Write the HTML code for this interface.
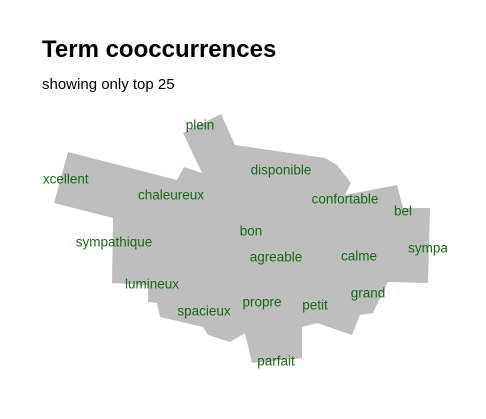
<!DOCTYPE html>
<html><head><meta charset="utf-8"><style>
body{margin:0;background:#fff;width:486px;height:414px;overflow:hidden;font-family:"Liberation Sans",sans-serif}
</style></head><body>
<svg width="486" height="414">
<text x="42" y="57" font-size="24" font-weight="bold" fill="#000">Term cooccurrences</text>
<text x="42" y="89" font-size="15" fill="#000">showing only top 25</text>
<defs><clipPath id="pc"><rect x="43" y="100" width="404" height="300"/></clipPath></defs>
<g clip-path="url(#pc)">
<polygon fill="#bebebe" points="183,133 221,114 235,145 325,158 337,165 351,183 345,195 397,185 403,208 430,208 428,283 388,282 373,313 360,315 352,335 317,323 302,327 302,358 252,363 245,333 230,342 208,335 203,327 160,317 157,303 148,302 148,285 112,283 113,218 54,203 68,152 177,180 184,167 202,173"/>
<g id="labels"></g>
</g>
</svg>
<script>
const terms=["plein","disponible","excellent","chaleureux","confortable","bel","sympathique","bon","agreable","calme","sympa","lumineux","grand","spacieux","propre","petit","parfait"];
const xs=[200,281,62,171,345,403,114,251,276,359,428,152,368,204,262,315,276];
const ys=[125,170,179,195,199,211,242,231,257,256,248,284,293,311,302,305,361];
const g=document.getElementById('labels');
terms.forEach((t,i)=>{
 const el=document.createElementNS('http://www.w3.org/2000/svg','text');
 el.setAttribute('x',xs[i]);el.setAttribute('y',ys[i]+4.5);
 el.setAttribute('text-anchor','middle');el.setAttribute('font-size','13.5');el.setAttribute('fill','#1a661a');
 el.textContent=t;
 
 
 g.appendChild(el);
});
</script>
</body></html>
